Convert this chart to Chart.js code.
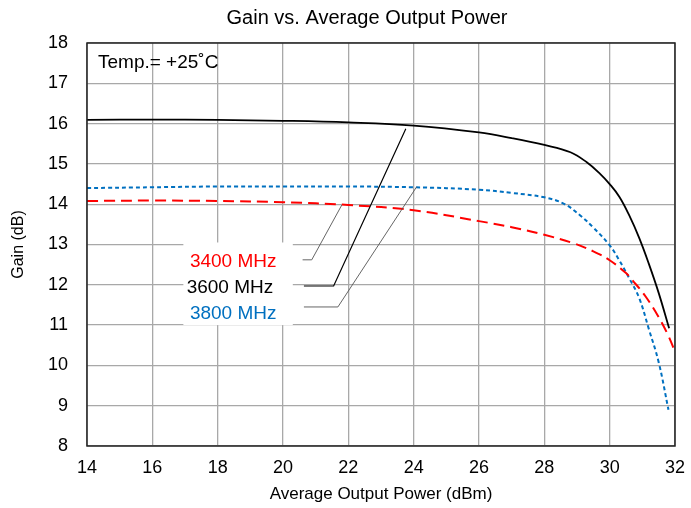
<!DOCTYPE html>
<html>
<head>
<meta charset="utf-8">
<script src="https://cdn.jsdelivr.net/npm/chart.js@4/dist/chart.umd.min.js"></script>
<style>
  html, body { margin: 0; padding: 0; background: #fff; }
  #wrap { width: 691px; height: 508px; }
</style>
</head>
<body>
<div id="wrap"><canvas id="gainChart"></canvas></div>
<script>
// ── Gain vs. Average Output Power ──

const xTicks = [14, 16, 18, 20, 22, 24, 26, 28, 30, 32];
const yTicks = [8, 9, 10, 11, 12, 13, 14, 15, 16, 17, 18];

const pout3400 = [14, 16, 18, 20, 22, 24, 26, 27, 28, 28.9, 29.5, 30, 30.5, 30.7, 31.1, 31.5, 31.8, 32];
const gain3400 = [14.08, 14.09, 14.08, 14.05, 13.98, 13.85, 13.58, 13.43, 13.24, 13.03, 12.83, 12.61, 12.29, 12.11, 11.71, 11.20, 10.73, 10.34];

const pout3600 = [14, 16, 18, 20, 22, 24, 26, 27, 28, 28.8, 29.3, 29.7, 30, 30.3, 30.6, 30.9, 31.2, 31.5, 31.82];
const gain3600 = [16.09, 16.10, 16.09, 16.07, 16.03, 15.95, 15.78, 15.64, 15.47, 15.29, 15.04, 14.76, 14.50, 14.18, 13.72, 13.17, 12.52, 11.80, 10.92];

const pout3800 = [14, 16, 18, 20, 22, 24, 26, 27, 28, 28.6, 29.1, 29.5, 30, 30.3, 30.6, 30.9, 31.2, 31.5, 31.8];
const gain3800 = [14.40, 14.42, 14.44, 14.44, 14.44, 14.42, 14.36, 14.28, 14.17, 14.01, 13.72, 13.42, 12.98, 12.60, 12.16, 11.68, 10.90, 10.08, 8.90];

// label callouts: text, colour, text anchor, leader elbow points (data coords)
const callouts = [
  { text: '3400 MHz', color: '#ff0000', at: [17.15, 12.57], line: [[20.6, 12.62], [20.88, 12.62], [21.8, 13.98]] },
  { text: '3600 MHz', color: '#000000', at: [17.05, 11.93], line: [[20.64, 11.97], [21.55, 11.97], [23.76, 15.87]] },
  { text: '3800 MHz', color: '#0070c0', at: [17.15, 11.28], line: [[20.64, 11.45], [21.68, 11.45], [24.09, 14.43]] }
];
const calloutBox = { x0: 16.95, x1: 20.3, y0: 13.05, y1: 11.0 };

const FONT = "'Liberation Sans', Arial, sans-serif";

function pts(xs, ys) {
  return xs.map((x, i) => ({ x: x, y: ys[i] }));
}

const decorPlugin = {
  id: 'decor',
  beforeDatasetsDraw(chart) {
    const { ctx, scales: { x, y } } = chart;
    // white box behind the callout labels
    const bx = x.getPixelForValue(calloutBox.x0);
    const by = y.getPixelForValue(calloutBox.y0);
    ctx.save();
    ctx.fillStyle = '#fff';
    ctx.fillRect(bx, by, x.getPixelForValue(calloutBox.x1) - bx, y.getPixelForValue(calloutBox.y1) - by);
    ctx.restore();
  },
  afterDatasetsDraw(chart) {
    const { ctx, chartArea: a, scales: { x, y } } = chart;
    ctx.save();
    // plot border
    ctx.strokeStyle = '#222';
    ctx.lineWidth = 1.5;
    ctx.strokeRect(a.left, a.top, a.right - a.left, a.bottom - a.top);

    // leader lines + labels
    callouts.forEach(c => {
      ctx.strokeStyle = c.color === '#000000' ? '#000' : '#555';
      ctx.lineWidth = c.color === '#000000' ? 1.2 : 0.9;
      ctx.beginPath();
      c.line.forEach((p, i) => {
        const px = x.getPixelForValue(p[0]);
        const py = y.getPixelForValue(p[1]);
        if (i === 0) ctx.moveTo(px, py); else ctx.lineTo(px, py);
      });
      ctx.stroke();
      ctx.fillStyle = c.color;
      ctx.font = '19px ' + FONT;
      ctx.textBaseline = 'middle';
      ctx.textAlign = 'left';
      ctx.fillText(c.text, x.getPixelForValue(c.at[0]), y.getPixelForValue(c.at[1]));
    });

    // temperature note
    ctx.fillStyle = '#000';
    ctx.font = '19px ' + FONT;
    ctx.textAlign = 'left';
    ctx.textBaseline = 'middle';
    ctx.fillText('Temp.= +25\u02DAC', a.left + 11, a.top + 20);

    // title
    ctx.font = '20px ' + FONT;
    ctx.textAlign = 'center';
    ctx.fillText('Gain vs. Average Output Power', 367, 18);
    ctx.restore();
  }
};

const ctx = document.getElementById('gainChart');
new Chart(ctx, {
  type: 'line',
  data: {
    datasets: [
      {
        label: '3400 MHz',
        data: pts(pout3400, gain3400),
        borderColor: '#ff0000',
        borderWidth: 2,
        borderDash: [11, 6],
        tension: 0.4,
        pointRadius: 0,
        fill: false
      },
      {
        label: '3600 MHz',
        data: pts(pout3600, gain3600),
        borderColor: '#000000',
        borderWidth: 1.8,
        tension: 0.4,
        pointRadius: 0,
        fill: false
      },
      {
        label: '3800 MHz',
        data: pts(pout3800, gain3800),
        borderColor: '#0070c0',
        borderWidth: 2,
        borderDash: [4, 3],
        tension: 0.4,
        pointRadius: 0,
        fill: false
      }
    ]
  },
  options: {
    responsive: true,
    maintainAspectRatio: false,
    animation: false,
    layout: { padding: { top: 43, right: 16, left: 0, bottom: 0 } },
    plugins: {
      legend: { display: false },
      title: { display: false },
      tooltip: { enabled: false }
    },
    scales: {
      x: {
        type: 'linear',
        min: 14,
        max: 32,
        afterBuildTicks: s => { s.ticks = xTicks.map(v => ({ value: v })); },
        afterFit: s => { s.height = 62; s.paddingRight = 0; },
        grid: { color: '#a8a8a8', lineWidth: 1.3, drawTicks: false },
        border: { display: false },
        ticks: { color: '#000', padding: 11, font: { family: FONT, size: 18 } },
        title: {
          display: true,
          text: 'Average Output Power (dBm)',
          color: '#000',
          font: { family: FONT, size: 17 },
          padding: { top: 0, bottom: 3 }
        }
      },
      y: {
        min: 8,
        max: 18,
        afterBuildTicks: s => { s.ticks = yTicks.map(v => ({ value: v })); },
        afterFit: s => { s.width = 87; },
        grid: { color: '#a8a8a8', lineWidth: 1.3, drawTicks: false },
        border: { display: false },
        ticks: { color: '#000', padding: 19, font: { family: FONT, size: 18 } },
        title: {
          display: true,
          text: 'Gain (dB)',
          color: '#000',
          font: { family: FONT, size: 16 },
          padding: { top: 9, bottom: 0 }
        }
      }
    }
  },
  plugins: [decorPlugin]
});
</script>
</body>
</html>
